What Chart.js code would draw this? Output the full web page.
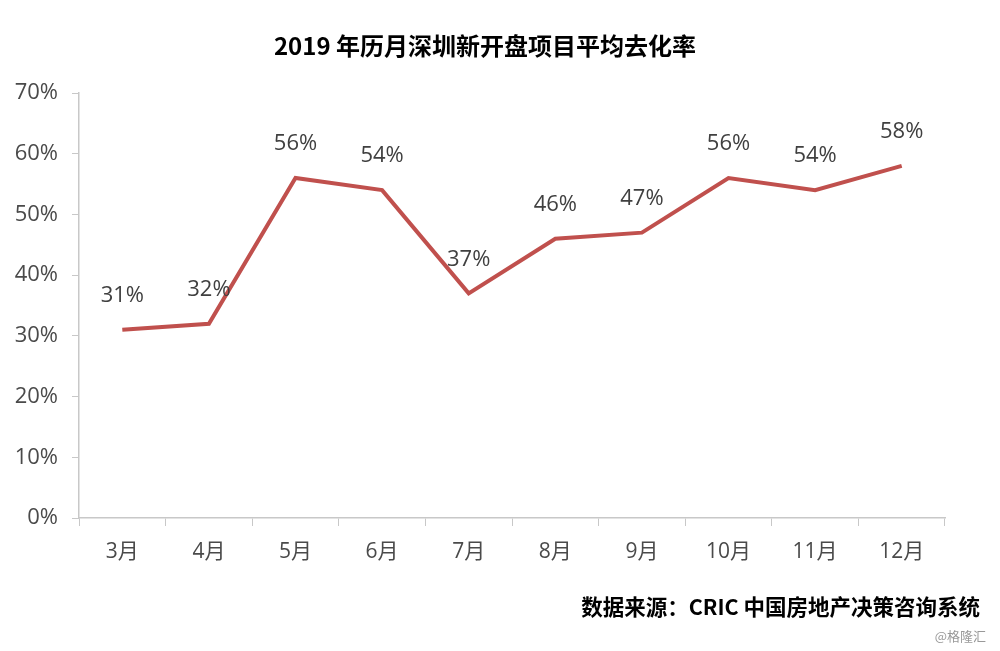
<!DOCTYPE html>
<html>
<head>
<meta charset="utf-8">
<script src="https://cdn.jsdelivr.net/npm/chart.js@4"></script>
<style>
  html, body { margin: 0; padding: 0; background: #fff; }
  #grafico { display: block; }
</style>
</head>
<body>
<canvas id="grafico" width="1000" height="651"></canvas>
<script>
// datos
const meses = ["3月", "4月", "5月", "6月", "7月", "8月", "9月", "10月", "11月", "12月"];
const tasaDesalojo = [31, 32, 56, 54, 37, 46, 47, 56, 54, 58];
const ticksY = [0, 10, 20, 30, 40, 50, 60, 70];

const titulo = "2019 年历月深圳新开盘项目平均去化率";
const fuente = "数据来源：CRIC 中国房地产决策咨询系统";
const marca = "@格隆汇";

const fuenteBase = '"Open Sans", "Noto Sans CJK SC", sans-serif';

// etiquetas de valor y textos fijos
const textosPlugin = {
    id: "textos",
    afterDatasetsDraw(chart) {
        const ctx = chart.ctx;
        const meta = chart.getDatasetMeta(0);
        ctx.save();
        ctx.font = "22px " + fuenteBase;
        ctx.fillStyle = "#404040";
        ctx.textAlign = "center";
        ctx.textBaseline = "middle";
        meta.data.forEach((pt, i) => {
            ctx.fillText(tasaDesalojo[i] + "%", pt.x, pt.y - 34);
        });

        ctx.fillStyle = "#000";
        ctx.font = 'bold 24px "Noto Sans CJK SC", "Open Sans", sans-serif';
        ctx.fillText(titulo, 485, 46);

        ctx.textAlign = "right";
        ctx.font = 'bold 21.5px "Noto Sans CJK SC", "Open Sans", sans-serif';
        ctx.fillText(fuente, 980, 607);

        ctx.fillStyle = "#999";
        ctx.font = '13px "Noto Sans CJK SC", sans-serif';
        ctx.fillText(marca, 986, 636);
        ctx.restore();
    }
};

const ctx = document.getElementById("grafico");

new Chart(ctx, {
    type: "line",
    data: {
        labels: meses,
        datasets: [
            {
                data: tasaDesalojo,
                borderColor: "#C0504D",
                borderWidth: 4,
                pointRadius: 0,
                tension: 0,
                fill: false,
            },
        ],
    },
    options: {
        responsive: false,
        animation: false,
        devicePixelRatio: 1,
        layout: {
            padding: { top: 93, right: 55, bottom: 83, left: 0 },
        },
        scales: {
            x: {
                offset: true,
                afterFit(scale) { scale.height = 50; },
                grid: {
                    offset: true,
                    drawOnChartArea: false,
                    drawTicks: true,
                    tickLength: 8,
                    color: "#c8c8c8",
                },
                border: { color: "#c8c8c8", width: 1.5 },
                ticks: {
                    color: "#4a4a4a",
                    padding: 13,
                    font: { size: 21, family: fuenteBase },
                },
            },
            y: {
                min: 0,
                max: 70,
                afterFit(scale) { scale.width = 79; },
                afterBuildTicks(scale) {
                    scale.ticks = ticksY.map(v => ({ value: v }));
                },
                grid: {
                    drawOnChartArea: false,
                    drawTicks: true,
                    tickLength: 7,
                    color: "#c8c8c8",
                },
                border: { color: "#c8c8c8", width: 1.5 },
                ticks: {
                    color: "#4a4a4a",
                    padding: 14,
                    font: { size: 22, family: fuenteBase },
                    callback: v => v + "%",
                },
            },
        },
        plugins: {
            legend: { display: false },
            tooltip: { enabled: false },
        },
    },
    plugins: [textosPlugin],
});
</script>
</body>
</html>
